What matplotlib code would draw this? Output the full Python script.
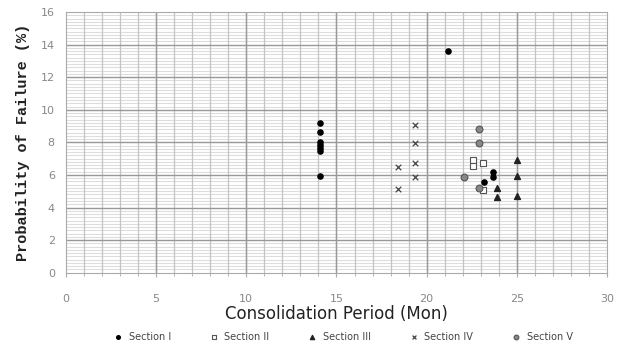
import numpy as np
import matplotlib.pyplot as plt
from matplotlib.ticker import MultipleLocator

# Section I .. V : (consolidation period, probability of failure)
s1_x = [14.1, 14.1, 14.1, 14.1, 14.1, 14.1, 14.1, 21.2, 23.2, 23.7, 23.7]
s1_y = [9.2, 8.65, 8.05, 7.85, 7.65, 7.45, 5.95, 13.6, 5.55, 6.2, 5.9]
s2_x = [22.55, 22.55, 23.1, 23.1]
s2_y = [6.9, 6.55, 6.75, 5.05]
s3_x = [25.0, 25.0, 25.0, 23.9, 23.9]
s3_y = [6.9, 5.95, 4.7, 5.2, 4.65]
s4_x = [19.35, 19.35, 19.35, 19.35, 18.4, 18.4]
s4_y = [9.05, 7.95, 6.75, 5.85, 6.5, 5.15]
s5_x = [22.9, 22.9, 22.05, 22.9]
s5_y = [8.8, 7.95, 5.9, 5.2]

fig = plt.figure(figsize=(6.19, 3.49), dpi=100)
ax = fig.add_axes([0.1066, 0.2186, 0.874, 0.747])

ax.set_xlim(0, 30)
ax.set_ylim(0, 16)
ax.xaxis.set_major_locator(MultipleLocator(5))
ax.xaxis.set_minor_locator(MultipleLocator(1))
ax.yaxis.set_major_locator(MultipleLocator(2))

# grid drawn by hand so the major lines sit on top of the fine ones
ax.hlines(np.arange(0.2, 16, 0.2), 0, 30, color='#dddddd', linewidth=0.8, zorder=0)
ax.vlines(np.arange(1, 30, 1), 0, 16, color='#c4c4c4', linewidth=0.9, zorder=0.2)
ax.hlines(np.arange(2, 16, 2), 0, 30, color='#999999', linewidth=1.0, zorder=0.4)
ax.vlines(np.arange(5, 30, 5), 0, 16, color='#999999', linewidth=1.0, zorder=0.4)

ax.tick_params(axis='y', which='both', length=0)
ax.tick_params(axis='x', which='major', length=3, color='#aaaaaa')
ax.tick_params(axis='x', which='minor', length=2, color='#aaaaaa')
ax.tick_params(axis='both', labelsize=8, labelcolor='#888888', pad=8)
ax.tick_params(axis='x', pad=12)
for sp in ax.spines.values():
    sp.set_color('#aaaaaa')

ax.scatter(s1_x, s1_y, s=14, marker='o', color='black', label='Section I', zorder=3)
ax.scatter(s2_x, s2_y, s=18, marker='s', facecolor='white', edgecolor='#555555',
           linewidth=0.8, label='Section II', zorder=3)
ax.scatter(s3_x, s3_y, s=18, marker='^', color='#222222', label='Section III', zorder=3)
ax.scatter(s4_x, s4_y, s=16, marker='x', color='#444444', linewidth=0.9,
           label='Section IV', zorder=3)
ax.scatter(s5_x, s5_y, s=24, marker='o', facecolor='#888888', edgecolor='#555555',
           linewidth=0.8, label='Section V', zorder=3)

ax.set_xlabel('Consolidation Period (Mon)', fontsize=12, color='#222222', labelpad=1)
ax.set_ylabel('Probability of Failure (%)', fontsize=11, family='Liberation Mono',
              weight='bold', color='#222222', labelpad=8)

fig.legend(loc='lower center', ncol=5, frameon=False, fontsize=7,
           bbox_to_anchor=(0.55, -0.005), markerscale=0.7, handletextpad=0.1,
           columnspacing=3.4, labelcolor='#444444')

fig.savefig('out.png', dpi=100)
